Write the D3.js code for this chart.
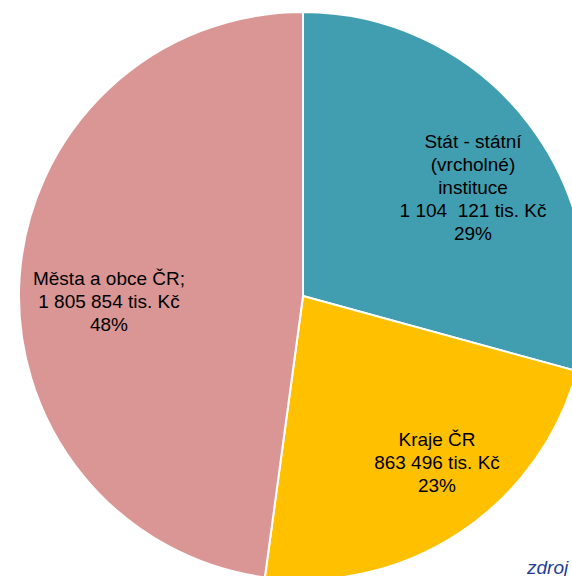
<!DOCTYPE html>
<html>
<head>
<meta charset="utf-8">
<script src="https://cdn.jsdelivr.net/npm/d3@7"></script>
<style>
  html, body { margin: 0; padding: 0; background: #fff; overflow: hidden; }
  svg { display: block; }
</style>
</head>
<body>
<svg id="chart" width="572" height="576"></svg>
<script>
// data
const categories = ['Stát - státní (vrcholné) instituce', 'Kraje ČR', 'Města a obce ČR'];
const values = [1104121, 863496, 1805854];
const percents = ['29%', '23%', '48%'];
const amounts = ['1 104  121 tis. Kč', '863 496 tis. Kč', '1 805 854 tis. Kč'];
const labelLines = [
  ['Stát - státní', '(vrcholné)', 'instituce'],
  ['Kraje ČR'],
  ['Města a obce ČR;']
];
const colors = ['#409EB0', '#FFC000', '#D99694'];

const svg = d3.select('#chart');
const cx = 303, cy = 296, r = 284;

const pie = d3.pie().sort(null).value(d => d.value);
const arc = d3.arc().innerRadius(0).outerRadius(r);

const data = categories.map((c, i) => ({name: c, value: values[i], i}));
const arcs = pie(data);

const g = svg.append('g').attr('transform', `translate(${cx},${cy})`);

g.selectAll('path')
  .data(arcs)
  .join('path')
    .attr('d', arc)
    .attr('fill', d => colors[d.data.i])
    .attr('stroke', '#fff')
    .attr('stroke-width', 2)
    .attr('stroke-linejoin', 'round');

// centre x and first baseline of each label block
const labelPos = [[473, 148], [437, 446], [109, 285]];
const lineH = 23;

arcs.forEach((d, i) => {
  const lines = labelLines[i].concat([amounts[i], percents[i]]);
  const [lx, ly] = labelPos[i];
  const t = svg.append('text')
    .attr('text-anchor', 'middle')
    .attr('font-family', 'Liberation Sans, Arial, sans-serif')
    .attr('font-size', 19)
    .attr('fill', '#000');
  lines.forEach((s, k) => {
    t.append('tspan')
      .attr('x', lx)
      .attr('y', ly + k * lineH)
      .style('white-space', 'pre')
      .text(s);
  });
});

svg.append('text')
  .attr('x', 527)
  .attr('y', 574)
  .attr('font-family', 'Liberation Sans, Arial, sans-serif')
  .attr('font-size', 19)
  .attr('font-style', 'italic')
  .attr('fill', '#1F3E93')
  .text('zdroj');
</script>
</body>
</html>
